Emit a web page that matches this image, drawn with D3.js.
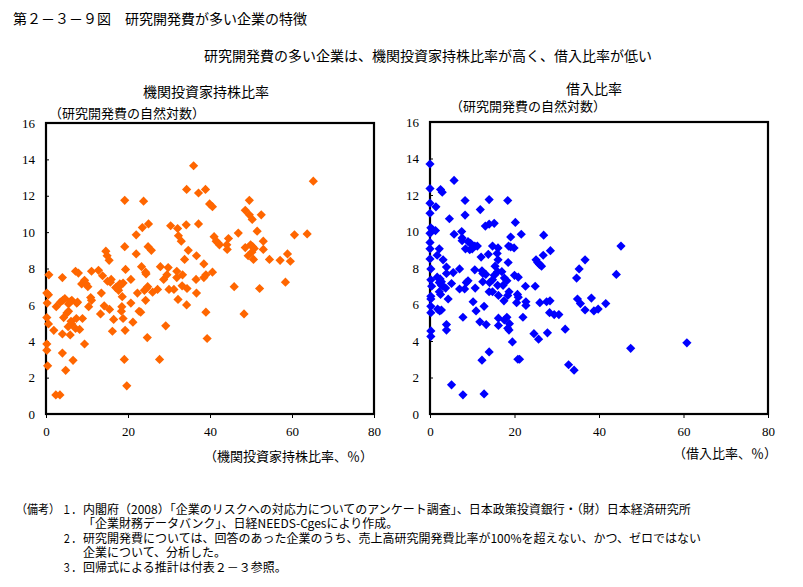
<!DOCTYPE html>
<html><head><meta charset="utf-8">
<script src="https://cdn.jsdelivr.net/npm/d3@7"></script>
<style>
html,body{margin:0;padding:0;background:#fff;}
svg{display:block;}
.jp{font-family:"Noto Sans CJK JP","Noto Sans",sans-serif;fill:#000;}
.tick text{font-family:"Liberation Serif","DejaVu Serif",serif;font-size:13px;fill:#000;}
</style></head>
<body>
<script>
// ---- Data ----
const yTicks = [0,2,4,6,8,10,12,14,16];
const xTicks = [0,20,40,60,80];

// left panel: institutional investor ownership ratio (%) vs ln(R&D)
const ownershipX = [0.2,0.7,0.6,0.3,0.2,0.6,0.2,0.2,0.4,1.9,2.5,4,3.5,4.1,4.6,4.3,4,4,4.8,2.4,3.4,5.1,5.5,5.5,6,6.3,5.4,5.9,6.1,6.3,6.6,7.2,7.9,7.5,7.7,7.4,7.2,8.2,8.9,8.7,9.4,9.8,10.2,9.4,10.4,10.9,11.1,11.1,12.8,13.8,13.5,13.3,14.2,15.4,15,15.7,15.9,15.5,16.5,16.2,17,17.4,17.7,18,18.3,18.8,18.6,18.5,18.4,18.8,19.3,19.4,19.1,19.7,20.7,20.7,21.2,22.3,22.7,23.1,23.3,24.3,24.4,24.3,24,24.5,24.8,24.7,26,27.2,27.9,27.7,28.7,29.2,29.5,29.8,30,31.2,31.9,31.9,32.2,33.3,33.2,33.8,34.4,34.3,36.6,36.7,38.5,38.5,39,39,39.3,
14.6,14.9,19.2,19.2,22,22,23.5,23.8,25,24.9,25.7,30.4,32.1,32.3,33,34.3,34.2,34.7,36,37.2,37.2,36.7,38.9,39.9,
40.6,49.6,48.6,49.6,50.3,52.5,65.2,41,41.5,42,42.3,44.5,44.1,44.2,46.9,51.5,48.6,49.9,50.4,50.8,50.2,49.3,53,53,58.9,60.6,63.7,
40.6,45.9,50.6,54.5,57.1,59.6,52.1,58.4,48.3];
const ownershipRD = [6.65,7.65,6.55,6.1,5.3,4.95,3.85,3.5,2.65,4.6,5.9,7.5,6.15,6.25,6.35,5.3,4.4,3.35,2.4,1.05,1.05,5.55,5.65,6.05,6.2,6.25,4.8,4.35,5.1,4.95,2.95,7.85,7.75,6.1,6.15,5.25,4.7,4.65,5.25,7.15,7.35,7.15,7.0,3.85,5.9,6.4,6.25,7.85,7.9,7.6,6.65,5.5,5.95,8.45,7.3,7.25,7.4,5.75,5.2,4.55,6.95,7.0,6.8,7.15,7.1,7.2,6.45,5.9,5.65,5.25,4.6,7.95,3.0,1.55,7.4,6.1,5.05,6.65,5.65,5.6,8.1,7.8,7.7,6.25,6.8,6.9,7.0,4.2,6.7,6.85,8.1,3.0,7.4,4.85,7.65,8.05,6.85,6.85,7.85,7.5,6.3,7.65,7.05,8.5,6.9,6.0,7.4,6.65,8.25,7.5,7.65,5.6,4.15,
8.95,8.7,11.75,9.2,9.85,8.8,10.25,11.7,10.45,9.2,9.0,10.35,10.2,9.8,9.5,12.35,10.4,9.0,13.65,12.15,10.45,8.7,12.35,11.55,
11.4,11.75,11.2,10.95,10.7,10.95,12.8,9.75,9.5,9.4,9.3,9.65,9.3,9.05,9.95,10.05,9.15,9.3,9.2,9.1,8.9,8.7,9.5,9.05,8.8,9.85,9.9,
7.8,7.0,8.5,8.5,8.45,8.4,6.9,7.25,5.5];

// right panel: borrowing ratio (%) vs ln(R&D)
const borrowX = [0,0,0,0,1.4,2.5,2.9,5.7,4.6,0.2,0.6,1.3,0,0,0,0,2.2,1.7,5.7,8.3,8.3,7.5,7.6,7.6,8.4,9,9.6,9.4,10,10.6,11.2,11.9,12.1,14,13.1,14,15.2,13.8,14.8,16.1,15.9,18.4,18.6,19.1,19.9,19.1,20.2,21.6,26.9,26.8,28.5,36.7,45.2,
0.2,0.2,0.4,0.2,0.2,0.2,0.2,0.2,0.2,1.7,2.4,2.2,2.7,2.2,2.5,2.7,3.1,3.7,1.8,2.3,2.7,3.1,3.9,3.9,4.3,3.9,3.9,5.1,5.5,7,7,8.2,8.6,9,7.8,5.1,7.8,10.2,10.7,10.9,10.6,11.8,12.3,12.3,12.5,13.2,12.5,12.8,13.3,12.8,14,14.1,14,14.8,14.8,15.2,15.4,16.1,16,16,16.2,16.2,16.2,17,17.3,17.6,17.5,17.6,18.2,18.2,18.5,18.4,18.7,18.4,18.7,18.8,19.5,20,20.5,20.8,21.2,20.9,20.7,20.9,22,22.6,22.7,22.7,24.9,24.6,25.1,25.5,25.9,26.4,25.7,26,27.6,28.4,27.8,28.3,29.4,30.5,32,32.8,34.1,34.7,35.3,34.9,35.6,36.7,38.2,38.8,39.8,
44.1,41.6,47.5,60.8];
const borrowRD = [13.7,12.35,11.55,11.0,11.35,12.3,12.15,12.8,10.7,10.2,10.1,10.05,9.9,9.4,9.05,8.5,9.05,8.7,9.85,11.7,10.9,10.0,9.65,9.5,9.05,9.45,9.35,9.0,9.05,9.2,9.2,11.2,8.6,11.75,10.3,10.4,10.45,8.75,9.2,9.1,8.8,11.7,9.2,9.15,9.1,9.7,10.5,9.85,9.8,8.7,8.95,8.45,9.2,
7.95,7.35,7.0,6.45,6.3,5.9,5.55,4.55,4.25,7.5,7.4,7.2,7.25,6.7,6.55,7.05,7.0,6.9,5.75,5.65,5.7,8.45,8.05,7.7,6.3,4.9,4.6,7.15,7.75,7.95,6.85,6.85,7.2,7.3,5.3,1.6,1.05,6.15,6.9,5.65,7.9,5.05,2.95,7.85,7.7,7.65,7.25,5.9,4.9,1.1,3.4,7.2,6.7,7.35,6.7,7.6,8.1,8.45,7.8,7.05,6.5,5.25,4.85,7.8,7.05,7.45,6.2,5.15,5.3,7.3,8.3,6.5,6.7,4.7,4.6,4.95,3.95,7.6,6.1,3.0,3.0,7.5,6.55,6.4,5.3,7.0,6.15,5.95,7.0,4.4,8.45,8.3,8.2,8.1,4.1,6.1,6.15,6.2,4.45,5.55,5.45,5.45,4.65,2.7,2.4,7.45,7.95,6.3,6.05,5.7,6.35,5.65,5.75,
7.65,6.05,3.6,3.9];

const noteLabels = ["（備考）","１．","２．","３．"];
const noteLabelY = [514,514,543,572];
const noteTexts = [
  "内閣府（2008）「企業のリスクへの対応力についてのアンケート調査」、日本政策投資銀行・（財）日本経済研究所",
  "「企業財務データバンク」、日経NEEDS-Cgesにより作成。",
  "研究開発費については、回答のあった企業のうち、売上高研究開発費比率が100%を超えない、かつ、ゼロではない",
  "企業について、分析した。",
  "回帰式による推計は付表２－３参照。"
];
const noteTextY = [514,528,543,557,572];

// ---- Drawing ----
const svg = d3.select("body").append("svg").attr("width",803).attr("height",587);
svg.append("rect").attr("width",803).attr("height",587).attr("fill","#fff");

function txt(x,y,t,size,anchor){
  return svg.append("text").attr("class","jp").attr("x",x).attr("y",y)
    .attr("font-size",size).attr("text-anchor",anchor||"start").text(t);
}

txt(13,24,"第２－３－９図　研究開発費が多い企業の特徴",14);
txt(428,61,"研究開発費の多い企業は、機関投資家持株比率が高く、借入比率が低い",14,"middle");

const diamond = "M0,-4.6L4.6,0L0,4.6L-4.6,0Z";

function panel(opt){
  const x = d3.scaleLinear().domain([0,80]).range([opt.x0,opt.x1]);
  const y = d3.scaleLinear().domain([0,16]).range([opt.y0,opt.y1]);
  const g = svg.append("g");
  g.append("g").attr("transform",`translate(0,${opt.y0})`)
    .call(d3.axisBottom(x).tickValues(xTicks).tickSizeInner(4).tickSizeOuter(0).tickPadding(9))
    .call(s=>s.select(".domain").remove());
  g.append("g").attr("transform",`translate(${opt.x0},0)`)
    .call(d3.axisLeft(y).tickValues(yTicks).tickSizeInner(-3).tickSizeOuter(0).tickPadding(11))
    .call(s=>s.select(".domain").remove());
  g.selectAll(".tick line").attr("stroke","#000");
  g.append("rect").attr("x",x(0)).attr("y",y(16)).attr("width",x(80)-x(0)).attr("height",y(0)-y(16))
    .attr("fill","none").attr("stroke","#000").attr("stroke-width",2.2);
  const pts = opt.xs.map((v,i)=>[v,opt.ys[i]]);
  g.append("g").selectAll("path").data(pts).join("path")
    .attr("d",diamond).attr("transform",d=>`translate(${x(d[0])},${y(d[1])})`)
    .attr("fill",opt.color);
}

panel({x0:46,x1:374,y0:414,y1:123,xs:ownershipX,ys:ownershipRD,color:"#FF6600"});
panel({x0:430,x1:768,y0:414,y1:122,xs:borrowX,ys:borrowRD,color:"#0000FF"});

txt(206,97,"機関投資家持株比率",14,"middle");
txt(49,118,"（研究開発費の自然対数）",13);
txt(594,94,"借入比率",14,"middle");
txt(450,111,"（研究開発費の自然対数）",13);
txt(373,461,"（機関投資家持株比率、％）",13,"end");
txt(777,458,"（借入比率、％）",13,"end");

// notes
noteLabels.forEach((t,i)=>{
  const isHead = i===0;
  txt(isHead?16:62, noteLabelY[i], t, 12)
    .attr("textLength", isHead?44:19).attr("lengthAdjust","spacingAndGlyphs");
});
noteTexts.forEach((t,i)=>txt(83,noteTextY[i],t,12));
</script>
</body></html>
